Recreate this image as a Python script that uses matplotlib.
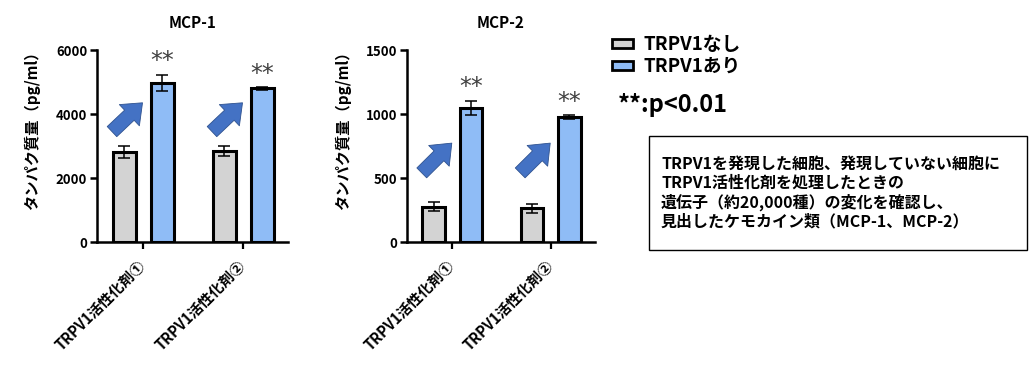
import matplotlib
matplotlib.use("Agg")
import matplotlib.pyplot as plt
import matplotlib.patches as mpatches
import numpy as np

plt.rcParams['font.family'] = ['Noto Sans CJK JP', 'DejaVu Sans']

# data
groups = ['TRPV1活性化剤①', 'TRPV1活性化剤②']
series = ['TRPV1なし', 'TRPV1あり']
mcp1_without = [2820, 2850]
mcp1_without_err = [180, 160]
mcp1_with = [4980, 4800]
mcp1_with_err = [250, 40]
mcp2_without = [275, 265]
mcp2_without_err = [35, 35]
mcp2_with = [1050, 975]
mcp2_with_err = [55, 15]
mcp1_ticks = [0, 2000, 4000, 6000]
mcp2_ticks = [0, 500, 1000, 1500]

gray = '#D3D3D3'
blue = '#8FBCF6'
arrow_blue = '#4472C4'
ylabel = 'タンパク質量（pg/ml）'
note = ('TRPV1を発現した細胞、発現していない細胞に\n'
        'TRPV1活性化剤を処理したときの\n'
        '遺伝子（約20,000種）の変化を確認し、\n'
        '見出したケモカイン類（MCP-1、MCP-2）')

W, H = 1030, 365
fig = plt.figure(figsize=(W / 100, H / 100), dpi=100)


def draw_panel(rect, title, lo, lo_err, hi, hi_err, ticks, arrow_y):
    ax = fig.add_axes(rect)
    x = np.arange(len(groups))
    off, w = 0.19, 0.23
    ax.bar(x - off, lo, w, color=gray, edgecolor='black', linewidth=2.2, zorder=2)
    ax.bar(x + off, hi, w, color=blue, edgecolor='black', linewidth=2.2, zorder=2)
    ax.errorbar(x - off, lo, yerr=lo_err, fmt='none', ecolor='black',
                elinewidth=1.1, capsize=4, capthick=1.1, zorder=3)
    ax.errorbar(x + off, hi, yerr=hi_err, fmt='none', ecolor='black',
                elinewidth=1.1, capsize=4, capthick=1.1, zorder=3)
    for xi, v, e in zip(x + off, hi, hi_err):
        ax.annotate('**', (xi, v + e), xytext=(0, 1), textcoords='offset points',
                    ha='center', va='bottom', fontsize=17, color='#404040',
                    family='DejaVu Sans')
    # blue up-right arrows between the bars
    for xi in x:
        ax.annotate('', xy=(xi - 0.005, arrow_y[1]), xytext=(xi - 0.31, arrow_y[0]),
                    xycoords=('data', 'axes fraction'),
                    textcoords=('data', 'axes fraction'),
                    arrowprops=dict(arrowstyle='simple,head_width=2.1,head_length=1.3,tail_width=1.0',
                                    fc=arrow_blue, ec='#2F528F', lw=0.6,
                                    shrinkA=0, shrinkB=0))
    ax.set_xlim(-0.46, 1.45)
    ax.set_ylim(ticks[0], ticks[-1])
    ax.set_yticks(ticks)
    ax.set_xticks(x)
    ax.set_xticklabels(groups, rotation=45, ha='right', va='center',
                       rotation_mode='anchor', fontsize=10.5, fontweight='bold')
    ax.tick_params(axis='x', length=5, width=1.6, pad=10)
    ax.tick_params(axis='y', length=5, width=1.8, labelsize=9.5, pad=2)
    for lab in ax.get_yticklabels():
        lab.set_fontweight('bold')
    for s in ['top', 'right']:
        ax.spines[s].set_visible(False)
    for s in ['left', 'bottom']:
        ax.spines[s].set_linewidth(1.8)
    ax.set_title(title, fontsize=11, fontweight='bold', pad=16)
    ax.set_ylabel(ylabel, fontsize=11, fontweight='bold')
    ax.yaxis.set_label_coords(-0.30, 0.60)
    return ax


ax_bottom = (H - 242) / H
ax_height = (242 - 50) / H
draw_panel([97 / W, ax_bottom, 191 / W, ax_height], 'MCP-1',
           mcp1_without, mcp1_without_err, mcp1_with, mcp1_with_err,
           mcp1_ticks, (0.575, 0.725))
draw_panel([407 / W, ax_bottom, 188 / W, ax_height], 'MCP-2',
           mcp2_without, mcp2_without_err, mcp2_with, mcp2_with_err,
           mcp2_ticks, (0.36, 0.515))

handles = [mpatches.Patch(facecolor=gray, edgecolor='black', linewidth=2.0),
           mpatches.Patch(facecolor=blue, edgecolor='black', linewidth=2.0)]
leg = fig.legend(handles, series, loc='upper left', bbox_to_anchor=(612 / W, 1 - 35 / H),
                 frameon=False, fontsize=13.5, handlelength=1.1, handleheight=0.35,
                 handletextpad=0.6, labelspacing=0.15, borderaxespad=0, borderpad=0)
for t in leg.get_texts():
    t.set_fontweight('bold')

fig.text(618 / W, 1 - 105 / H, '**:p<0.01', fontsize=17, fontweight='bold',
         ha='left', va='center')

fig.patches.append(mpatches.Rectangle((649 / W, 1 - 250 / H), (1027 - 649) / W, (250 - 136) / H,
                                      transform=fig.transFigure, fill=False,
                                      edgecolor='black', linewidth=1.0))
fig.text(661 / W, 1 - 193 / H, note, fontsize=11.5, fontweight='bold',
         ha='left', va='center', linespacing=1.2)

fig.savefig('out.png', dpi=100)
